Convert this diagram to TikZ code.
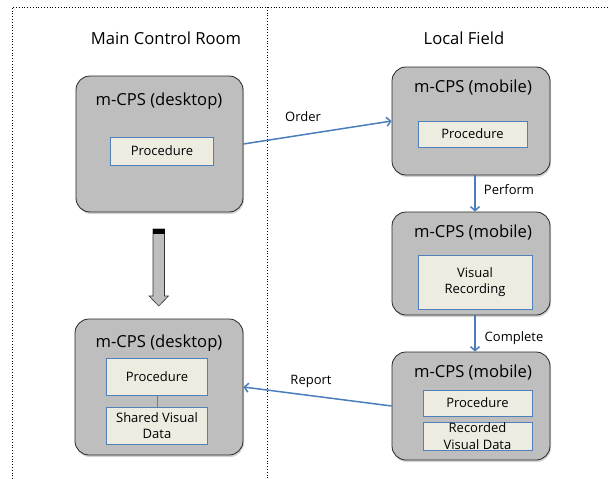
\documentclass[tikz,border=0pt]{standalone}
\usepackage{fontspec}
\setmainfont{Open Sans}
\usetikzlibrary{positioning,shadows,arrows.meta}

\definecolor{boxgray}{RGB}{190,190,190}
\definecolor{innerfill}{RGB}{238,236,225}
\definecolor{innerline}{RGB}{79,129,189}
\definecolor{flowblue}{RGB}{74,126,187}

\tikzset{
  heading/.style={font=\fontsize{16.6}{19}\selectfont},
  cpsbox/.style={draw=black!85, line width=0.8pt, fill=boxgray, rounded corners=14pt,
    inner sep=0pt, drop shadow={opacity=0.35, shadow xshift=1pt, shadow yshift=-2pt}},
  cpstitle/.style={font=\fontsize{16.6}{19}\selectfont},
  inbox/.style={draw=innerline, line width=0.8pt, fill=innerfill, inner sep=0pt,
    align=center, font=\fontsize{13}{16.5}\selectfont},
  flow/.style={draw=flowblue, line width=1.5pt, -{Straight Barb[length=4pt,width=9pt]}},
  flowlabel/.style={font=\fontsize{13}{15}\selectfont},
  frame/.style={dotted, line width=0.8pt}
}

\begin{document}
\begin{tikzpicture}[x=1pt,y=-1pt]
    \useasboundingbox (0,0) rectangle (608,479);

    %Frame
    \draw[frame] (12,479) -- (12,7) -- (608,7);
    \draw[frame] (267,7) -- (267,479);

    %Headings
    \node[heading] at (166,38) (room)  {Main Control Room};
    \node[heading] at (464,38) (field) {Local Field};

    %Boxes
    \node[cpsbox, minimum width=167pt, minimum height=136pt] at (159.5,144) (desk1) {};
    \node[cpsbox, minimum width=168pt, minimum height=136pt] at (159,387)   (desk2) {};
    \node[cpsbox, minimum width=158pt, minimum height=108pt] at (471,121)   (mob1)  {};
    \node[cpsbox, minimum width=158pt, minimum height=103pt] at (471,263.5) (mob2)  {};
    \node[cpsbox, minimum width=158pt, minimum height=108pt] at (471,406)   (mob3)  {};

    %Titles
    \node[cpstitle] at (159,101) (desk1t) {m-CPS (desktop)};
    \node[cpstitle] at (159,343) (desk2t) {m-CPS (desktop)};
    \node[cpstitle] at (473,88)  (mob1t)  {m-CPS (mobile)};
    \node[cpstitle] at (473,233) (mob2t)  {m-CPS (mobile)};
    \node[cpstitle] at (473,373) (mob3t)  {m-CPS (mobile)};

    %Inner boxes
    \node[inbox, minimum width=103pt, minimum height=28pt] at (162,151)   (proc1) {Procedure};
    \node[inbox, minimum width=109pt, minimum height=26pt] at (472.5,134) (proc2) {Procedure};
    \node[inbox, minimum width=114pt, minimum height=54pt] at (475,282)   (rec)   {Visual\\Recording};
    \node[inbox, minimum width=109pt, minimum height=26pt] at (477.5,403) (proc3) {Procedure};
    \node[inbox, minimum width=109pt, minimum height=28pt] at (477.5,436) (recdata) {Recorded\\Visual Data};
    \node[inbox, minimum width=101pt, minimum height=37pt] at (157,376.5) (proc4) {Procedure};
    \node[inbox, minimum width=101pt, minimum height=37pt] at (157,425.5) (shared) {Shared Visual\\Data};

    %Lines
    \draw[innerline, line width=0.8pt] (proc4) -- (shared);
    \draw[flow] (desk1.east) -- (mob1.west);
    \draw[flow] ([xshift=4pt]mob1.south) -- ([xshift=4pt]mob2.north);
    \draw[flow] ([xshift=4pt]mob2.south) -- ([xshift=4pt]mob3.north);
    \draw[flow] (mob3.west) -- (desk2.east);

    %Labels
    \node[flowlabel] at (303,117) (order)    {Order};
    \node[flowlabel] at (509,190) (perform)  {Perform};
    \node[flowlabel] at (514,338) (complete) {Complete};
    \node[flowlabel] at (311,381) (report)   {Report};

    %Big arrow
    \draw[black!80, line width=0.6pt, fill=boxgray]
        (153,229) -- (164.5,229) -- (164.5,296) -- (168.5,296) -- (158.75,306)
        -- (149,296) -- (153,296) -- cycle;
    \fill[black] (153,229) rectangle (164.5,234);
\end{tikzpicture}
\end{document}
